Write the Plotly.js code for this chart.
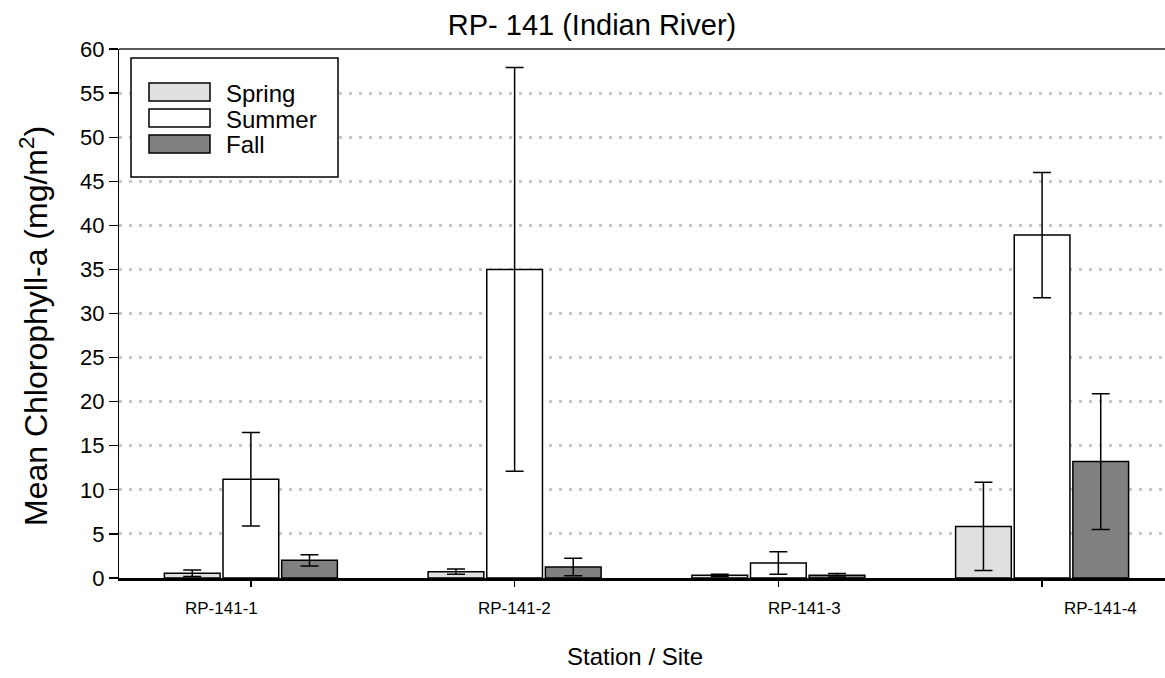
<!DOCTYPE html>
<html>
<head>
<meta charset="utf-8">
<script src="https://cdn.plot.ly/plotly-3.0.1.min.js"></script>
<style>html,body{margin:0;padding:0;background:#fff}#chart{width:1165px;height:678px}</style>
</head>
<body>
<div id="chart"></div>
<script>
// ---- data ----
const stations = ["RP-141-1", "RP-141-2", "RP-141-3", "RP-141-4"];
const stationPos = [0, 1, 2, 3];
const labelPos = [-0.11, 1.0, 2.1, 3.22];   // where the reference prints the station names
const seasons = ["Spring", "Summer", "Fall"];
const springMean = [0.55, 0.72, 0.3, 5.85];
const springErr  = [0.37, 0.3, 0.12, 5.0];
const summerMean = [11.2, 35.0, 1.7, 38.9];
const summerErr  = [5.3, 22.9, 1.27, 7.1];
const fallMean   = [2.0, 1.25, 0.3, 13.2];
const fallErr    = [0.65, 1.0, 0.2, 7.7];
const seasonColors = ["#e0e0e0", "#ffffff", "#808080"];
const yTicks = [0,5,10,15,20,25,30,35,40,45,50,55,60];

const FONT = "Liberation Sans, Arial, sans-serif";
const means = [springMean, summerMean, fallMean];
const errs = [springErr, summerErr, fallErr];

const traces = seasons.map((s, i) => ({
  type: "bar",
  name: s,
  x: stationPos,
  y: means[i],
  marker: {color: seasonColors[i], line: {color: "#000", width: 1.5}},
  error_y: {type: "data", array: errs[i], visible: true, color: "#000", thickness: 1.5, width: 9},
  showlegend: false,
  hoverinfo: "skip"
}));

// pixel -> paper helpers (plot area: x 119..1165, y 49..578)
const W = 1165, H = 678;
const L = 119, R = 1165, T = 49, B = 578;
const px = v => (v - L) / (R - L), py = v => (B - v) / (B - T);

const shapes = [
  {type: "rect", xref: "paper", yref: "paper", x0: px(131), x1: px(338), y0: py(58), y1: py(177),
   line: {color: "#000", width: 1.5}, fillcolor: "#fff", layer: "above"},
  {type: "line", xref: "paper", yref: "paper", x0: 0, x1: 1, y0: 1, y1: 1, line: {color: "#222", width: 1.5}}
];
const annotations = [];
const rows = [92, 118, 144];
seasons.forEach((s, i) => {
  shapes.push({type: "rect", xref: "paper", yref: "paper", x0: px(149), x1: px(210), y0: py(rows[i] - 9), y1: py(rows[i] + 9),
    line: {color: "#000", width: 1.5}, fillcolor: seasonColors[i], layer: "above"});
  annotations.push({xref: "paper", yref: "paper", x: px(224), y: py(rows[i] + 1), xanchor: "left", yanchor: "middle",
    text: s, showarrow: false, font: {family: FONT, size: 24, color: "#000"}});
});
stations.forEach((st, i) => {
  annotations.push({xref: "x", yref: "paper", x: labelPos[i], y: py(608), xanchor: "center", yanchor: "middle",
    text: st, showarrow: false, font: {family: FONT, size: 17, color: "#000"}});
});
annotations.push({xref: "paper", yref: "paper", x: px(635), y: py(656), xanchor: "center", yanchor: "middle",
  text: "Station / Site", showarrow: false, font: {family: FONT, size: 24, color: "#000"}});
annotations.push({xref: "paper", yref: "paper", x: px(34), y: py(326), xanchor: "center", yanchor: "middle",
  textangle: -90, text: "Mean Chlorophyll-a (mg/m<sup>2</sup>)", showarrow: false,
  font: {family: FONT, size: 32, color: "#000"}});

const layout = {
  width: W, height: H,
  margin: {l: L, r: W - R, t: T, b: H - B, pad: 0},
  paper_bgcolor: "#fff", plot_bgcolor: "#fff",
  font: {family: FONT, color: "#000"},
  title: {text: "RP- 141 (Indian River)", x: 592 / W, xref: "container", xanchor: "center",
          y: 1 - 25 / H, yref: "container", yanchor: "middle", font: {family: FONT, size: 29, color: "#000"}},
  barmode: "group", bargap: 0.333, bargroupgap: 0.05,
  xaxis: {range: [-0.5, 3.466], tickvals: stationPos, ticktext: ["", "", "", ""], ticks: "outside", ticklen: 6,
          tickwidth: 1.5, tickcolor: "#000", showgrid: false, zeroline: false,
          showline: true, linecolor: "#000", linewidth: 3, fixedrange: true},
  yaxis: {range: [0, 60], tickvals: yTicks, ticks: "outside", ticklen: 9, tickwidth: 1.2, tickcolor: "#000",
          tickfont: {family: FONT, size: 22, color: "#000"},
          showgrid: true, gridcolor: "#c8c8c8", gridwidth: 3, griddash: "3px,7px",
          zeroline: false, showline: true, linecolor: "#000", linewidth: 1.2},
  shapes: shapes,
  annotations: annotations,
  showlegend: false
};

Plotly.newPlot("chart", traces, layout, {displayModeBar: false, staticPlot: true});
</script>
</body>
</html>
